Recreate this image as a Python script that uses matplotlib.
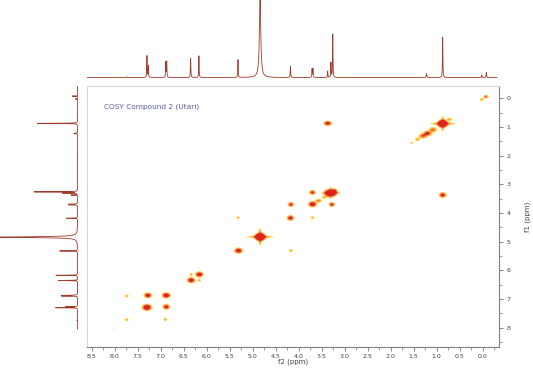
import numpy as np
import matplotlib.pyplot as plt
from matplotlib.ticker import MultipleLocator

# 1D proton spectrum: shift (ppm), relative height, half width (ppm)
h_ppm = [7.74, 7.30, 7.27, 6.89, 6.87, 6.35, 6.17, 5.32, 4.84, 4.18,
         3.71, 3.69, 3.37, 3.30, 3.26, 1.22, 0.87, 0.02, -0.08]
h_int = [0.01, 0.28, 0.15, 0.20, 0.20, 0.25, 0.28, 0.23, 1.00, 0.145,
         0.11, 0.11, 0.085, 0.19, 0.56, 0.05, 0.52, 0.03, 0.07]
h_wid = [0.006, 0.005, 0.005, 0.005, 0.005, 0.005, 0.005, 0.005, 0.018, 0.006,
         0.005, 0.005, 0.005, 0.005, 0.005, 0.008, 0.005, 0.005, 0.005]

# COSY peaks: f2, f1 (ppm), intensity, width f2, width f1
cosy_f2 = [8.05, 7.74, 7.30, 6.88, 6.34, 6.16, 5.31, 4.84, 4.84, 4.84, 4.64, 4.18, 3.99,
           3.70, 3.57, 3.45, 3.31, 3.31, 3.31, 3.24, 2.26, 2.12, 1.54, 1.42, 1.30, 1.20, 1.08,
           0.87, 0.87, 0.87, 0.72, 0.02, -0.07,
           7.28, 6.88, 7.74, 6.90, 6.34, 6.16, 5.32, 4.17, 4.17, 3.70, 3.70, 3.28,
           3.37, 0.87, 3.77]
cosy_f1 = [8.02, 7.72, 7.29, 6.87, 6.34, 6.14, 5.31, 4.83, 4.83, 4.83, 4.63, 4.17, 3.99,
           3.69, 3.57, 3.45, 3.30, 3.30, 3.30, 3.25, 2.27, 2.12, 1.55, 1.43, 1.31, 1.22, 1.09,
           0.88, 0.88, 0.88, 0.73, 0.04, -0.06,
           6.87, 7.27, 6.89, 7.71, 6.14, 6.34, 4.16, 5.31, 3.70, 4.16, 3.28, 3.70,
           0.87, 3.37, 3.31]
cosy_int = [0.06, 0.14, 1.0, 0.8, 0.7, 0.7, 0.7, 3.0, 0.35, 0.35, 0.06, 0.6, 0.06,
            0.8, 0.25, 0.12, 2.0, 0.2, 0.2, 0.7, 0.06, 0.055, 0.12, 0.15, 0.35, 0.5, 0.3,
            2.5, 0.3, 0.3, 0.15, 0.14, 0.35,
            0.6, 0.6, 0.14, 0.14, 0.16, 0.16, 0.13, 0.15, 0.5, 0.15, 0.5, 0.5,
            0.6, 0.6, 0.06]
cosy_w2 = [0.02, 0.03, 0.05, 0.045, 0.045, 0.045, 0.045, 0.05, 0.15, 0.02, 0.015, 0.04, 0.02,
           0.045, 0.04, 0.04, 0.06, 0.12, 0.02, 0.04, 0.015, 0.01, 0.03, 0.04, 0.05, 0.05, 0.05,
           0.05, 0.15, 0.02, 0.04, 0.03, 0.03,
           0.045, 0.04, 0.03, 0.03, 0.025, 0.025, 0.03, 0.03, 0.035, 0.03, 0.035, 0.035,
           0.045, 0.04, 0.015]
cosy_w1 = [0.03, 0.04, 0.055, 0.05, 0.05, 0.05, 0.05, 0.06, 0.025, 0.16, 0.025, 0.05, 0.03,
           0.05, 0.04, 0.04, 0.06, 0.025, 0.12, 0.05, 0.02, 0.015, 0.03, 0.04, 0.05, 0.05, 0.05,
           0.06, 0.025, 0.15, 0.04, 0.04, 0.035,
           0.05, 0.05, 0.04, 0.04, 0.035, 0.035, 0.035, 0.035, 0.045, 0.035, 0.045, 0.045,
           0.045, 0.05, 0.02]

levels = [0.05, 0.1, 0.18, 0.3, 100]
level_colors = ['#ffdc5a', '#fdb022', '#f57320', '#de2418']
line_color = '#a03a2a'

f2_lim = (8.61, -0.36)
f1_lim = (8.67, -0.43)

# build spectra
ppm = np.linspace(-0.45, 8.7, 8000)
spec = np.zeros_like(ppm)
for p, a, w in zip(h_ppm, h_int, h_wid):
    spec += a / (1 + ((ppm - p) / w) ** 2)

x2 = np.linspace(-0.4, 8.65, 800)
y1 = np.linspace(-0.45, 8.7, 800)
X, Y = np.meshgrid(x2, y1)
Z = np.zeros_like(X)
for x0, y0, a, wx, wy in zip(cosy_f2, cosy_f1, cosy_int, cosy_w2, cosy_w1):
    Z += a * np.exp(-0.5 * ((X - x0) / wx) ** 2 - 0.5 * ((Y - y0) / wy) ** 2)

fig = plt.figure(figsize=(5.33, 3.68), dpi=100)
ax = fig.add_axes([0.1627, 0.0571, 0.774, 0.709])
ax_top = fig.add_axes([0.1627, 0.783, 0.774, 0.217])
ax_left = fig.add_axes([0.0, 0.0571, 0.150, 0.709])

ax.contourf(X, Y, Z, levels=levels, colors=level_colors, antialiased=True)
ax.set_xlim(*f2_lim)
ax.set_ylim(*f1_lim)

ax.yaxis.tick_right()
ax.yaxis.set_label_position('right')
ax.xaxis.set_major_locator(MultipleLocator(0.5))
ax.xaxis.set_minor_locator(MultipleLocator(0.25))
ax.yaxis.set_major_locator(MultipleLocator(1))
ax.yaxis.set_minor_locator(MultipleLocator(0.5))
ax.xaxis.set_major_formatter(plt.FuncFormatter(lambda v, pos: '%.1f' % (0.0 if abs(v) < 1e-9 else v)))
ax.yaxis.set_major_formatter(plt.FuncFormatter(lambda v, pos: '%d' % round(v)))
ax.tick_params(axis='both', which='major', direction='out', length=3, width=0.6,
               colors='#707070', labelsize=4.5, labelcolor='#404040', pad=2)
ax.tick_params(axis='both', which='minor', direction='out', length=2, width=0.5, colors='#707070')
for s in ['bottom', 'right']:
    ax.spines[s].set_color('#808080')
    ax.spines[s].set_linewidth(0.8)
for s in ['top', 'left']:
    ax.spines[s].set_color('#d8d8d8')
    ax.spines[s].set_linewidth(0.8)
ax.set_xlabel('f2 (ppm)', fontsize=5, color='#404040', labelpad=0)
ax.set_ylabel('f1 (ppm)', fontsize=5, color='#404040', labelpad=10, rotation=90)
ax.text(0.042, 0.921, 'COSY Compound 2 (Utari)', transform=ax.transAxes,
        fontsize=5.3, color='#5a5aa8', ha='left', va='center')

# top projection
m = (ppm >= -0.31) & (ppm <= 8.62)
ax_top.plot(ppm[m], spec[m], color=line_color, linewidth=0.6)
ax_top.set_xlim(*f2_lim)
ax_top.set_ylim(-0.03, 1.0)
ax_top.axis('off')

# left projection
m = (ppm >= -0.43) & (ppm <= 8.05)
ax_left.plot(spec[m], ppm[m], color=line_color, linewidth=0.6)
ax_left.set_ylim(*f1_lim)
ax_left.set_xlim(1.0, -0.03)
ax_left.axis('off')

fig.savefig('out.png', dpi=100)
